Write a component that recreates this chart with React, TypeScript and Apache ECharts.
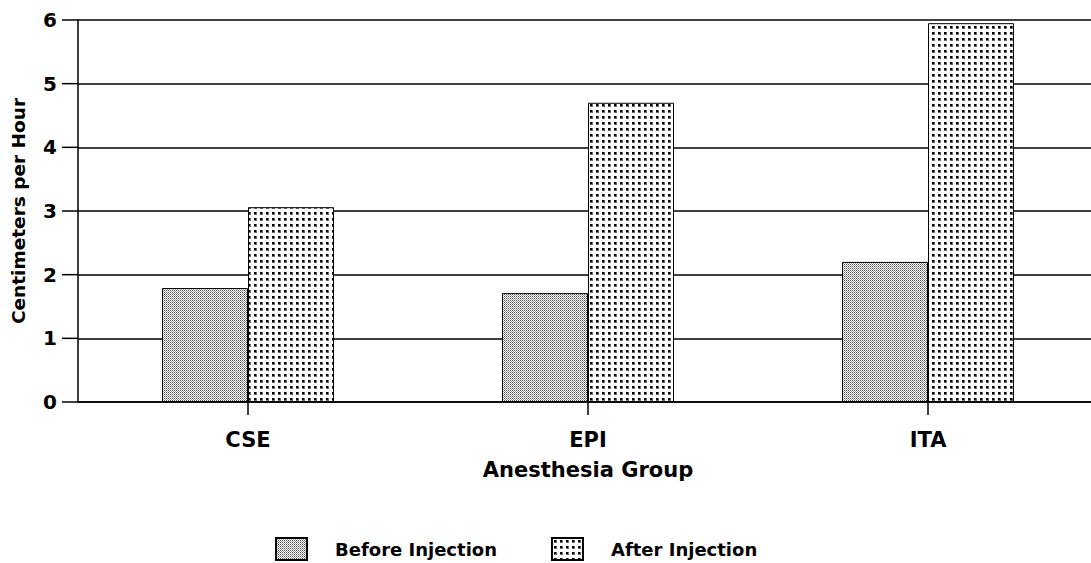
import React, { useEffect, useRef } from "react";
import * as echarts from "echarts";

const categories = ["CSE", "EPI", "ITA"];
const beforeValues = [1.79, 1.71, 2.2];
const afterValues = [3.06, 4.7, 5.95];
const seriesNames = ["Before Injection", "After Injection"];
const yTicks = [0, 1, 2, 3, 4, 5, 6];

function makeBeforePattern(): HTMLCanvasElement {
  const c = document.createElement("canvas");
  c.width = 2;
  c.height = 2;
  const ctx = c.getContext("2d")!;
  ctx.fillStyle = "#ffffff";
  ctx.fillRect(0, 0, 2, 2);
  ctx.fillStyle = "#555555";
  ctx.fillRect(0, 0, 1, 1);
  ctx.fillStyle = "#a0a0a0";
  ctx.fillRect(1, 1, 1, 1);
  return c;
}

function makeAfterPattern(): HTMLCanvasElement {
  const c = document.createElement("canvas");
  c.width = 6;
  c.height = 6;
  const ctx = c.getContext("2d")!;
  ctx.fillStyle = "#ffffff";
  ctx.fillRect(0, 0, 6, 6);
  ctx.fillStyle = "#6a6a6a";
  ctx.fillRect(2, 2, 3, 3);
  ctx.fillStyle = "#000000";
  ctx.fillRect(2, 2, 2, 2);
  return c;
}

export default function App() {
  const ref = useRef<HTMLDivElement>(null);
  useEffect(() => {
    document.body.style.margin = "0";
    const chart = echarts.init(ref.current!, null, { renderer: "svg" });
    const beforeFill = { image: makeBeforePattern(), repeat: "repeat" } as any;
    const afterFill = { image: makeAfterPattern(), repeat: "repeat" } as any;
    const font = "'DejaVu Sans', Arial, sans-serif";
    const tickLen = 16;
    chart.setOption({
      animation: false,
      backgroundColor: "#ffffff",
      grid: {
        left: 78,
        top: 20,
        width: 1020,
        height: 382,
        containLabel: false,
        outerBoundsMode: "none",
      },
      legend: {
        left: 270,
        top: 532,
        itemWidth: 31,
        itemHeight: 22,
        itemGap: 54,
        icon: "rect",
        data: seriesNames,
        textStyle: {
          fontFamily: font,
          fontWeight: "bold",
          fontSize: 18,
          color: "#000",
          padding: [0, 0, 0, 23],
        },
      },
      xAxis: {
        type: "category",
        data: categories,
        name: "Anesthesia Group",
        nameLocation: "middle",
        nameGap: 57,
        nameTextStyle: { fontFamily: font, fontWeight: "bold", fontSize: 21, color: "#000" },
        axisLine: { lineStyle: { color: "#000", width: 1.5 } },
        axisTick: { show: true, alignWithLabel: true, length: 13, lineStyle: { color: "#000", width: 1.5 } },
        axisLabel: { margin: 27, fontFamily: font, fontWeight: "bold", fontSize: 21, color: "#000" },
      },
      yAxis: {
        type: "value",
        min: 0,
        max: 6,
        interval: 1,
        name: "Centimeters per Hour",
        nameLocation: "middle",
        nameGap: 50,
        nameTextStyle: { fontFamily: font, fontWeight: "bold", fontSize: 18.5, color: "#000" },
        axisLine: { show: true, lineStyle: { color: "#000", width: 1.5 } },
        axisTick: { show: false },
        axisLabel: { margin: 21, fontFamily: font, fontWeight: "bold", fontSize: 20, color: "#000" },
        splitLine: { show: true, lineStyle: { color: "#000", width: 1.5 } },
      },
      series: [
        {
          name: seriesNames[0],
          type: "bar",
          data: beforeValues,
          barWidth: 86,
          barGap: "0%",
          itemStyle: { color: beforeFill, borderColor: "#000", borderWidth: 1 },
        },
        {
          name: seriesNames[1],
          type: "bar",
          data: afterValues,
          barWidth: 86,
          barGap: "0%",
          itemStyle: { color: afterFill, borderColor: "#000", borderWidth: 1 },
        },
        {
          name: "yTicks",
          type: "custom",
          silent: true,
          clip: false,
          z: 5,
          data: yTicks.map((v) => [0, v]),
          encode: { x: 0, y: 1 },
          renderItem: (params: any, api: any) => {
            const p = api.coord([0, api.value(1)]);
            const left = params.coordSys.x;
            return {
              type: "line",
              shape: { x1: left - tickLen, y1: p[1], x2: left, y2: p[1] },
              style: { stroke: "#000000", lineWidth: 1.5 },
            };
          },
        },
      ],
    });
    return () => chart.dispose();
  }, []);
  return <div ref={ref} style={{ width: 1091, height: 563 }} />;
}
